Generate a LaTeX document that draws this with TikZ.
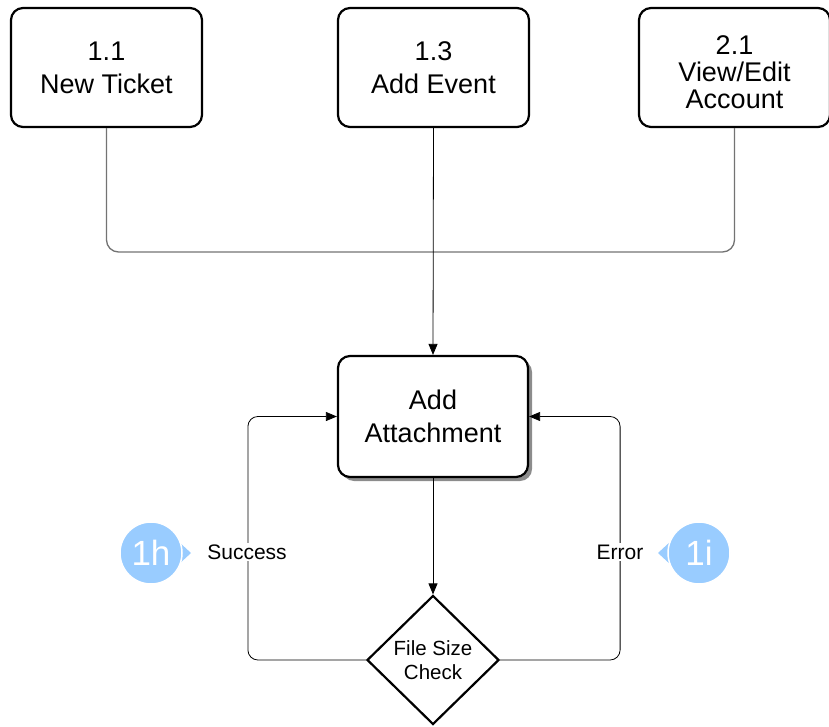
\documentclass[tikz,border=0pt]{standalone}
\usepackage{fontspec}
\setmainfont{Liberation Sans}
\usetikzlibrary{arrows.meta,shapes.geometric,shadows}
\definecolor{badge}{RGB}{153,204,255}
\begin{document}
\begin{tikzpicture}[x=1pt,y=-1pt,
  box/.style={draw, line width=2.2pt, rounded corners=12pt, fill=white,
    minimum width=191pt, minimum height=119pt, align=center,
    font=\fontsize{27}{33}\selectfont},
  bus/.style={draw=black!55, line width=1.3pt, rounded corners=12pt},
  arr/.style={draw, line width=0.8pt, -{Triangle[length=11pt,width=9pt]}},
  looparr/.style={arr, rounded corners=10pt},
  lbl/.style={fill=white, inner sep=2pt, font=\fontsize{21}{24}\selectfont},
  badgetxt/.style={text=white, font=\fontsize{35}{35}\selectfont}]
\useasboundingbox (0,0) rectangle (829,727);

\node[box] (n11) at (106.5,67.5) {1.1\\New Ticket};
\node[box] (n13) at (433.5,67.5) {1.3\\Add Event};
\node[box, font=\fontsize{27}{27}\selectfont] (n21) at (734.5,67.5) {\rule{0pt}{28pt}2.1\\View/Edit\\Account};

\node[box, minimum width=190pt, minimum height=121pt,
  drop shadow={shadow xshift=4pt, shadow yshift=-4pt, fill=black!45, opacity=1}]
  (add) at (433,416.5) {Add\\Attachment};

\node[diamond, draw, line width=2.2pt, fill=white, inner sep=0pt,
  minimum width=132pt, minimum height=129pt, align=center,
  font=\fontsize{20.5}{24}\selectfont] (dia) at (433,660) {File Size\\Check};

\coordinate (j) at (433.5,252);
\draw[bus] (n11.south) |- (j) -| (n21.south);
\draw[arr] (n13.south) -- (add.north);
\draw[arr] (add.south) -- (dia.north);
\draw[looparr] (dia.west) -| ([xshift=-89pt]add.west) -- (add.west);
\draw[looparr] (dia.east) -| ([xshift=91pt]add.east) -- (add.east);

\node[lbl] (succ) at (247,552) {Success};
\node[lbl] (err) at (620,552) {Error};

% badges
\fill[badge] (191,553) -- (178,541) -- (178,565) -- cycle;
\node[circle, fill=badge, draw=white, line width=1.5pt, minimum size=62pt, inner sep=0pt, badgetxt] (b1h) at (151,553) {1h};
\fill[badge] (658,553) -- (671,541) -- (671,565) -- cycle;
\node[circle, fill=badge, draw=white, line width=1.5pt, minimum size=62pt, inner sep=0pt, badgetxt] (b1i) at (699,553) {1i};
\end{tikzpicture}
\end{document}
